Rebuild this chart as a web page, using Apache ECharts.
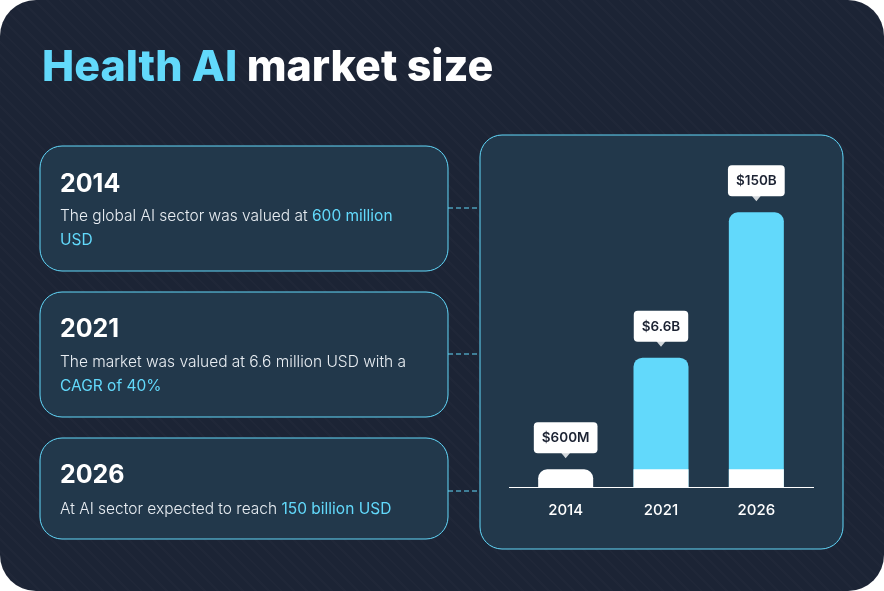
<!DOCTYPE html>
<html>
<head>
<meta charset="utf-8">
<script src="https://cdn.jsdelivr.net/npm/echarts@6/dist/echarts.min.js"></script>
<style>
  html, body { margin: 0; padding: 0; background: #ffffff; }
  #main {
    width: 884px; height: 591px; border-radius: 36px; overflow: hidden;
    background-color: #1c2435;
    background-image: repeating-linear-gradient(45deg, rgba(255,255,255,0.014) 0 2px, transparent 2px 9px);
  }
</style>
</head>
<body>
<div id="main"></div>
<script>
// market size per year, in million USD
const years = ['2014', '2021', '2026'];
const marketSize = [600, 6600, 150000];
const sizeLabels = ['$600M', '$6.6B', '$150B'];
// white base segment = the 2014 level
const baseLevel = [600, 600, 600];

const CYAN = '#62d9fb';
const PANEL = '#22384b';
const FONT = 'Inter, "Noto Sans", sans-serif';

const chart = echarts.init(document.getElementById('main'), null, { renderer: 'canvas' });

function panel(x, y, w, h) {
  return {
    type: 'rect', z: 0,
    shape: { x: x, y: y, width: w, height: h, r: 22 },
    style: { fill: PANEL, stroke: CYAN, lineWidth: 1 }
  };
}
function dash(y) {
  return {
    type: 'line', z: 0,
    shape: { x1: 448, y1: y, x2: 480, y2: y },
    style: { stroke: CYAN, lineWidth: 1, lineDash: [5, 3] }
  };
}
const rich = {
  w: { fill: '#e9eef3', fontSize: 15.5, fontWeight: 300, fontFamily: FONT },
  c: { fill: CYAN, fontSize: 15.5, fontWeight: 400, fontFamily: FONT }
};
function line(y, text) {
  return {
    type: 'text', z: 2, x: 60, y: y,
    style: { text: text, rich: rich, verticalAlign: 'middle', align: 'left' }
  };
}
function head(y, text) {
  return {
    type: 'text', z: 2, x: 60, y: y,
    style: { text: text, fill: '#ffffff', fontSize: 25, fontWeight: 700, fontFamily: FONT, verticalAlign: 'middle' }
  };
}

const option = {
  backgroundColor: 'transparent',
  animation: false,
  grid: { left: 518, right: 80, top: 124, bottom: 104 },
  xAxis: {
    type: 'category',
    data: years,
    axisLine: { show: false },
    axisTick: { show: false },
    axisLabel: { color: '#ffffff', fontSize: 15, fontWeight: 500, fontFamily: FONT, margin: 16 }
  },
  yAxis: {
    type: 'log',
    min: 410,
    max: 1000000,
    show: false,
    splitLine: { show: false }
  },
  graphic: [
    {
      type: 'text', z: 2, x: 42, y: 68,
      style: {
        text: '{a|Health AI }{b|market size}',
        verticalAlign: 'middle',
        rich: {
          a: { fill: CYAN, fontSize: 43, fontWeight: 800, fontFamily: FONT },
          b: { fill: '#ffffff', fontSize: 43, fontWeight: 800, fontFamily: FONT }
        }
      }
    },
    panel(480, 135, 363, 414),
    panel(40, 146, 408, 125),
    panel(40, 292, 408, 125),
    panel(40, 438, 408, 101),
    dash(208), dash(354), dash(491),
    head(184, '2014'),
    line(216, '{w|The global AI sector was valued at }{c|600 million}'),
    line(240, '{c|USD}'),
    head(329, '2021'),
    line(362, '{w|The market was valued at 6.6 million USD with a}'),
    line(386, '{c|CAGR of 40%}'),
    head(475, '2026'),
    line(509, '{w|At AI sector expected to reach }{c|150 billion USD}'),
    {
      type: 'line', z: 3,
      shape: { x1: 509, y1: 487.5, x2: 814, y2: 487.5 },
      style: { stroke: '#ffffff', lineWidth: 1 }
    }
  ],
  series: [
    {
      type: 'bar',
      barWidth: 55,
      barGap: '-100%',
      z: 2,
      data: marketSize.map((v, i) => (i === 0 ? '-' : v)),
      itemStyle: { color: CYAN, borderRadius: [9, 9, 0, 0] }
    },
    {
      type: 'bar',
      barWidth: 55,
      z: 3,
      data: baseLevel.map((v, i) => ({
        value: v,
        itemStyle: { borderRadius: i === 0 ? [9, 9, 0, 0] : 0 }
      })),
      itemStyle: { color: '#ffffff' }
    },
    {
      type: 'bar',
      barWidth: 55,
      z: 5,
      data: marketSize,
      itemStyle: { color: 'transparent' },
      label: {
        show: true,
        position: 'top',
        distance: 16,
        formatter: p => sizeLabels[p.dataIndex],
        backgroundColor: '#ffffff',
        borderRadius: 4,
        padding: [9, 8, 8, 8],
        color: '#1b2232',
        fontSize: 13.5,
        fontWeight: 600,
        fontFamily: FONT
      }
    },
    {
      type: 'scatter',
      z: 6,
      data: marketSize,
      symbol: 'triangle',
      symbolRotate: 180,
      symbolSize: [10, 6],
      symbolOffset: [0, -14],
      itemStyle: { color: '#ffffff' }
    }
  ]
};

chart.setOption(option);
</script>
</body>
</html>
